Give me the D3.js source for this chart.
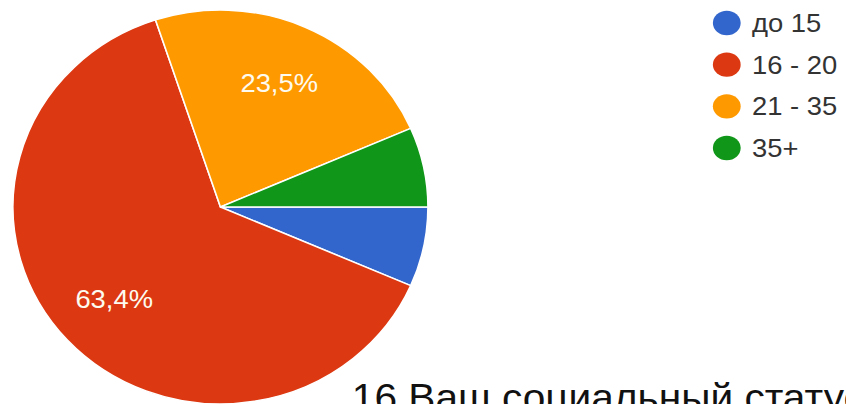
<!DOCTYPE html>
<html>
<head>
<meta charset="utf-8">
<script src="https://cdn.jsdelivr.net/npm/d3@7"></script>
<style>
  html, body { margin: 0; padding: 0; background: #fff; overflow: hidden; }
  svg { display: block; }
  text { font-family: "Liberation Sans", Arial, sans-serif; }
</style>
</head>
<body>
<svg id="chart" width="846" height="404"></svg>
<script>
const categories = ["до 15", "16 - 20", "21 - 35", "35+"];
const counts = [10, 97, 36, 10];
const colors = ["#3366cc", "#dc3912", "#ff9900", "#109618"];
const title = "16 Ваш социальный статус";

const svg = d3.select("#chart");
const stretch = 1.0533;
const root = svg.append("g").attr("transform", `scale(${stretch},1)`);

const cx = 209.3, cy = 207, R = 197;
const total = d3.sum(counts);
const data = categories.map((c, i) => ({ cat: c, value: counts[i], color: colors[i] }));

const pie = d3.pie().value(d => d.value).sort(null)
  .startAngle(Math.PI / 2).endAngle(Math.PI / 2 + 2 * Math.PI);
const arc = d3.arc().innerRadius(0).outerRadius(R);
const labelArc = d3.arc().innerRadius(R * 0.693).outerRadius(R * 0.693);

const pg = root.append("g").attr("transform", `translate(${cx},${cy})`);
const arcs = pie(data);
pg.selectAll("path").data(arcs).join("path")
  .attr("d", arc)
  .attr("fill", d => d.data.color)
  .attr("stroke", "#ffffff")
  .attr("stroke-width", 1.5)
  .attr("stroke-linejoin", "round");

const fmt = v => (Math.round(v * 1000) / 10).toFixed(1).replace(".", ",") + "%";
pg.selectAll("text.lbl").data(arcs.filter(d => d.data.value / total > 0.1)).join("text")
  .attr("class", "lbl")
  .attr("transform", d => `translate(${labelArc.centroid(d)})`)
  .attr("text-anchor", "middle")
  .attr("dy", "0.36em")
  .attr("font-size", 26)
  .attr("fill", "#fdfbf0")
  .text(d => fmt(d.data.value / total));

// Legend
const lg = root.append("g");
const ly = d3.scalePoint().domain(categories).range([23, 148]);
const items = lg.selectAll("g").data(data).join("g")
  .attr("transform", d => `translate(690,${ly(d.cat)})`);
items.append("ellipse").attr("rx", 13.2).attr("ry", 12.2).attr("fill", d => d.color);
items.append("text")
  .attr("x", 24).attr("y", 9)
  .attr("font-size", 26)
  .attr("fill", "#333333")
  .text(d => d.cat);

// Title (cut off at bottom/right as in reference)
root.append("text")
  .attr("x", 334).attr("y", 411)
  .attr("font-size", 38.6)
  .attr("fill", "#111111")
  .text(title);
</script>
</body>
</html>
